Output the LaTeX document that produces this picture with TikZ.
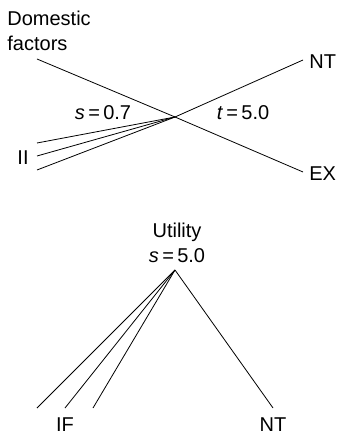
\documentclass[tikz,border=0pt]{standalone}
\usepackage{fontspec}
\setmainfont{Liberation Sans}
\usetikzlibrary{positioning}
\newcommand{\eqv}[2]{\textit{#1}\,=\,#2}

\begin{document}
\begin{tikzpicture}[x=1pt,y=-1pt,font=\fontsize{20}{25}\selectfont,line width=0.8pt,
  lbl/.style={inner sep=0pt}]
  \useasboundingbox (0,0) rectangle (337,435);
  % upper tree
  \coordinate (hub) at (175,117);
  \node[lbl,align=left,anchor=north west] (dom) at (7,11) {Domestic\\factors};
  \coordinate (domend) at (37,59);
  \coordinate (ntend) at (303,60);
  \coordinate (exend) at (303,172);
  \node[lbl,anchor=west] (nt) at (309,62) {NT};
  \node[lbl,anchor=west] (ex) at (309,174) {EX};
  \node[lbl] (ii) at (23,158) {II};
  \node[lbl] (sval) at (103,113) {\eqv{s}{0.7}};
  \node[lbl] (tval) at (243,113) {\eqv{t}{5.0}};
  \draw (domend) -- (hub) -- (exend);
  \draw (hub) -- (ntend);
  \foreach \y [count=\i] in {143,156,170} {
    \coordinate (ii\i) at (37,\y);
    \draw (ii\i) -- (hub);
  }
  % lower tree
  \node[lbl,align=center] (util) at (177,243) {Utility\\\eqv{s}{5.0}};
  \coordinate (top) at (175,270);
  \foreach \x [count=\i] in {37,65,93} {
    \coordinate (if\i) at (\x,408);
    \draw (top) -- (if\i);
  }
  \coordinate (ntb) at (273,408);
  \draw (top) -- (ntb);
  \node[lbl] (iflbl) at (65,425) {IF};
  \node[lbl] (ntlbl) at (273,425) {NT};
\end{tikzpicture}
\end{document}
